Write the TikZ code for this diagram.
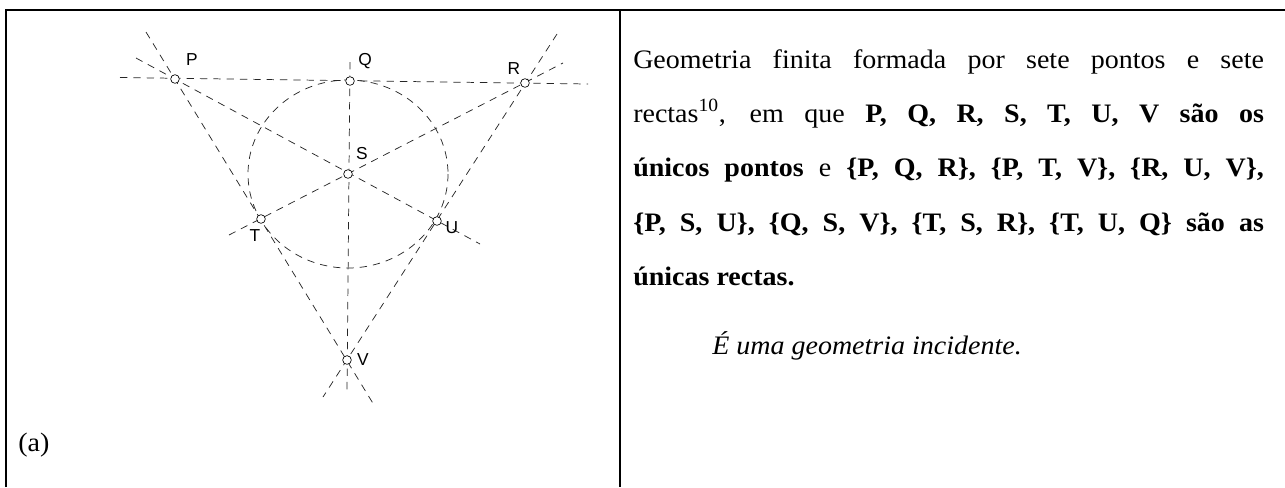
\documentclass[tikz,border=0pt]{standalone}
\usepackage{graphicx}
\usepackage{fontspec}
\setmainfont{Liberation Serif}
\newfontfamily\labfont{Liberation Sans}
\newcommand\wide[1]{\scalebox{1.05}[1]{#1}}
\begin{document}
\begin{tikzpicture}[x=0.75pt,y=-0.75pt,
  pnt/.style={circle, draw, fill=white, inner sep=0pt, minimum size=6.5pt, line width=0.5pt},
  dl/.style={dash pattern=on 5.5pt off 4.5pt, line width=0.55pt, black!85},
  lbl/.style={font=\labfont\fontsize{13}{13}\selectfont, inner sep=0pt},
  txt/.style={anchor=base west, inner sep=0pt, font=\fontsize{20}{20}\selectfont},
  frame/.style={line width=1.5pt}]
\useasboundingbox (0,0) rectangle (1285,487);
% frame
\coordinate (tl) at (6,10);
\coordinate (tr) at (1285,10);
\coordinate (bl) at (6,487);
\coordinate (dt) at (620,10);
\coordinate (db) at (620,487);
\draw[frame] (bl) -- (tl) -- (tr);
\draw[frame] (dt) -- (db);
% points
\coordinate (P) at (175,79);
\coordinate (Q) at (350,81);
\coordinate (R) at (525,83);
\coordinate (S) at (348,174);
\coordinate (T) at (261,219);
\coordinate (U) at (437,221);
\coordinate (V) at (347,360);
% line ends
\coordinate (pqr1) at (120,77.5);
\coordinate (pqr2) at (588,84);
\coordinate (ptv1) at (146,32);
\coordinate (ptv2) at (374,405);
\coordinate (ruv1) at (557,34);
\coordinate (ruv2) at (323,397);
\coordinate (psu1) at (136,58);
\coordinate (psu2) at (480,244);
\coordinate (qsv1) at (350,62);
\coordinate (qsv2) at (347,390);
\coordinate (tsr1) at (229,235);
\coordinate (tsr2) at (563,63);
\draw[dl] (pqr1) -- (pqr2);
\draw[dl] (ptv1) -- (ptv2);
\draw[dl] (ruv1) -- (ruv2);
\draw[dl] (psu1) -- (psu2);
\draw[dl] (qsv1) -- (qsv2);
\draw[dl] (tsr1) -- (tsr2);
\draw[dl] (S) ellipse [x radius=100, y radius=94];
% point markers
\foreach \p in {P,Q,R,S,T,U,V} \node[pnt] (n\p) at (\p) {};
% labels
\node[lbl] (lP) at (192,60) {P};
\node[lbl] (lQ) at (365,61) {Q};
\node[lbl] (lR) at (514,69) {R};
\node[lbl] (lS) at (362,154) {S};
\node[lbl] (lT) at (255,236) {T};
\node[lbl] (lU) at (452,228) {U};
\node[lbl] (lV) at (363,360) {V};
\node[txt] (la) at (18,451) {\wide{(a)}};
% text
\node[txt] (t1) at (633,68) {\wide{\makebox[450.5pt][s]{Geometria finita formada por sete pontos e sete}}};
\node[txt] (t2) at (633,122) {\wide{\makebox[450.5pt][s]{rectas\textsuperscript{10}, em que \textbf{P, Q, R, S, T, U, V são os}}}};
\node[txt] (t3) at (633,176) {\wide{\makebox[450.5pt][s]{\textbf{únicos pontos} e \textbf{\{P, Q, R\}, \{P, T, V\}, \{R, U, V\},}}}};
\node[txt] (t4) at (633,231) {\wide{\makebox[450.5pt][s]{\textbf{\{P, S, U\}, \{Q, S, V\}, \{T, S, R\}, \{T, U, Q\} são as}}}};
\node[txt] (t5) at (633,285) {\wide{\textbf{únicas rectas.}}};
\node[txt] (t6) at (712,354) {\wide{\textit{É uma geometria incidente.}}};
\end{tikzpicture}
\end{document}
